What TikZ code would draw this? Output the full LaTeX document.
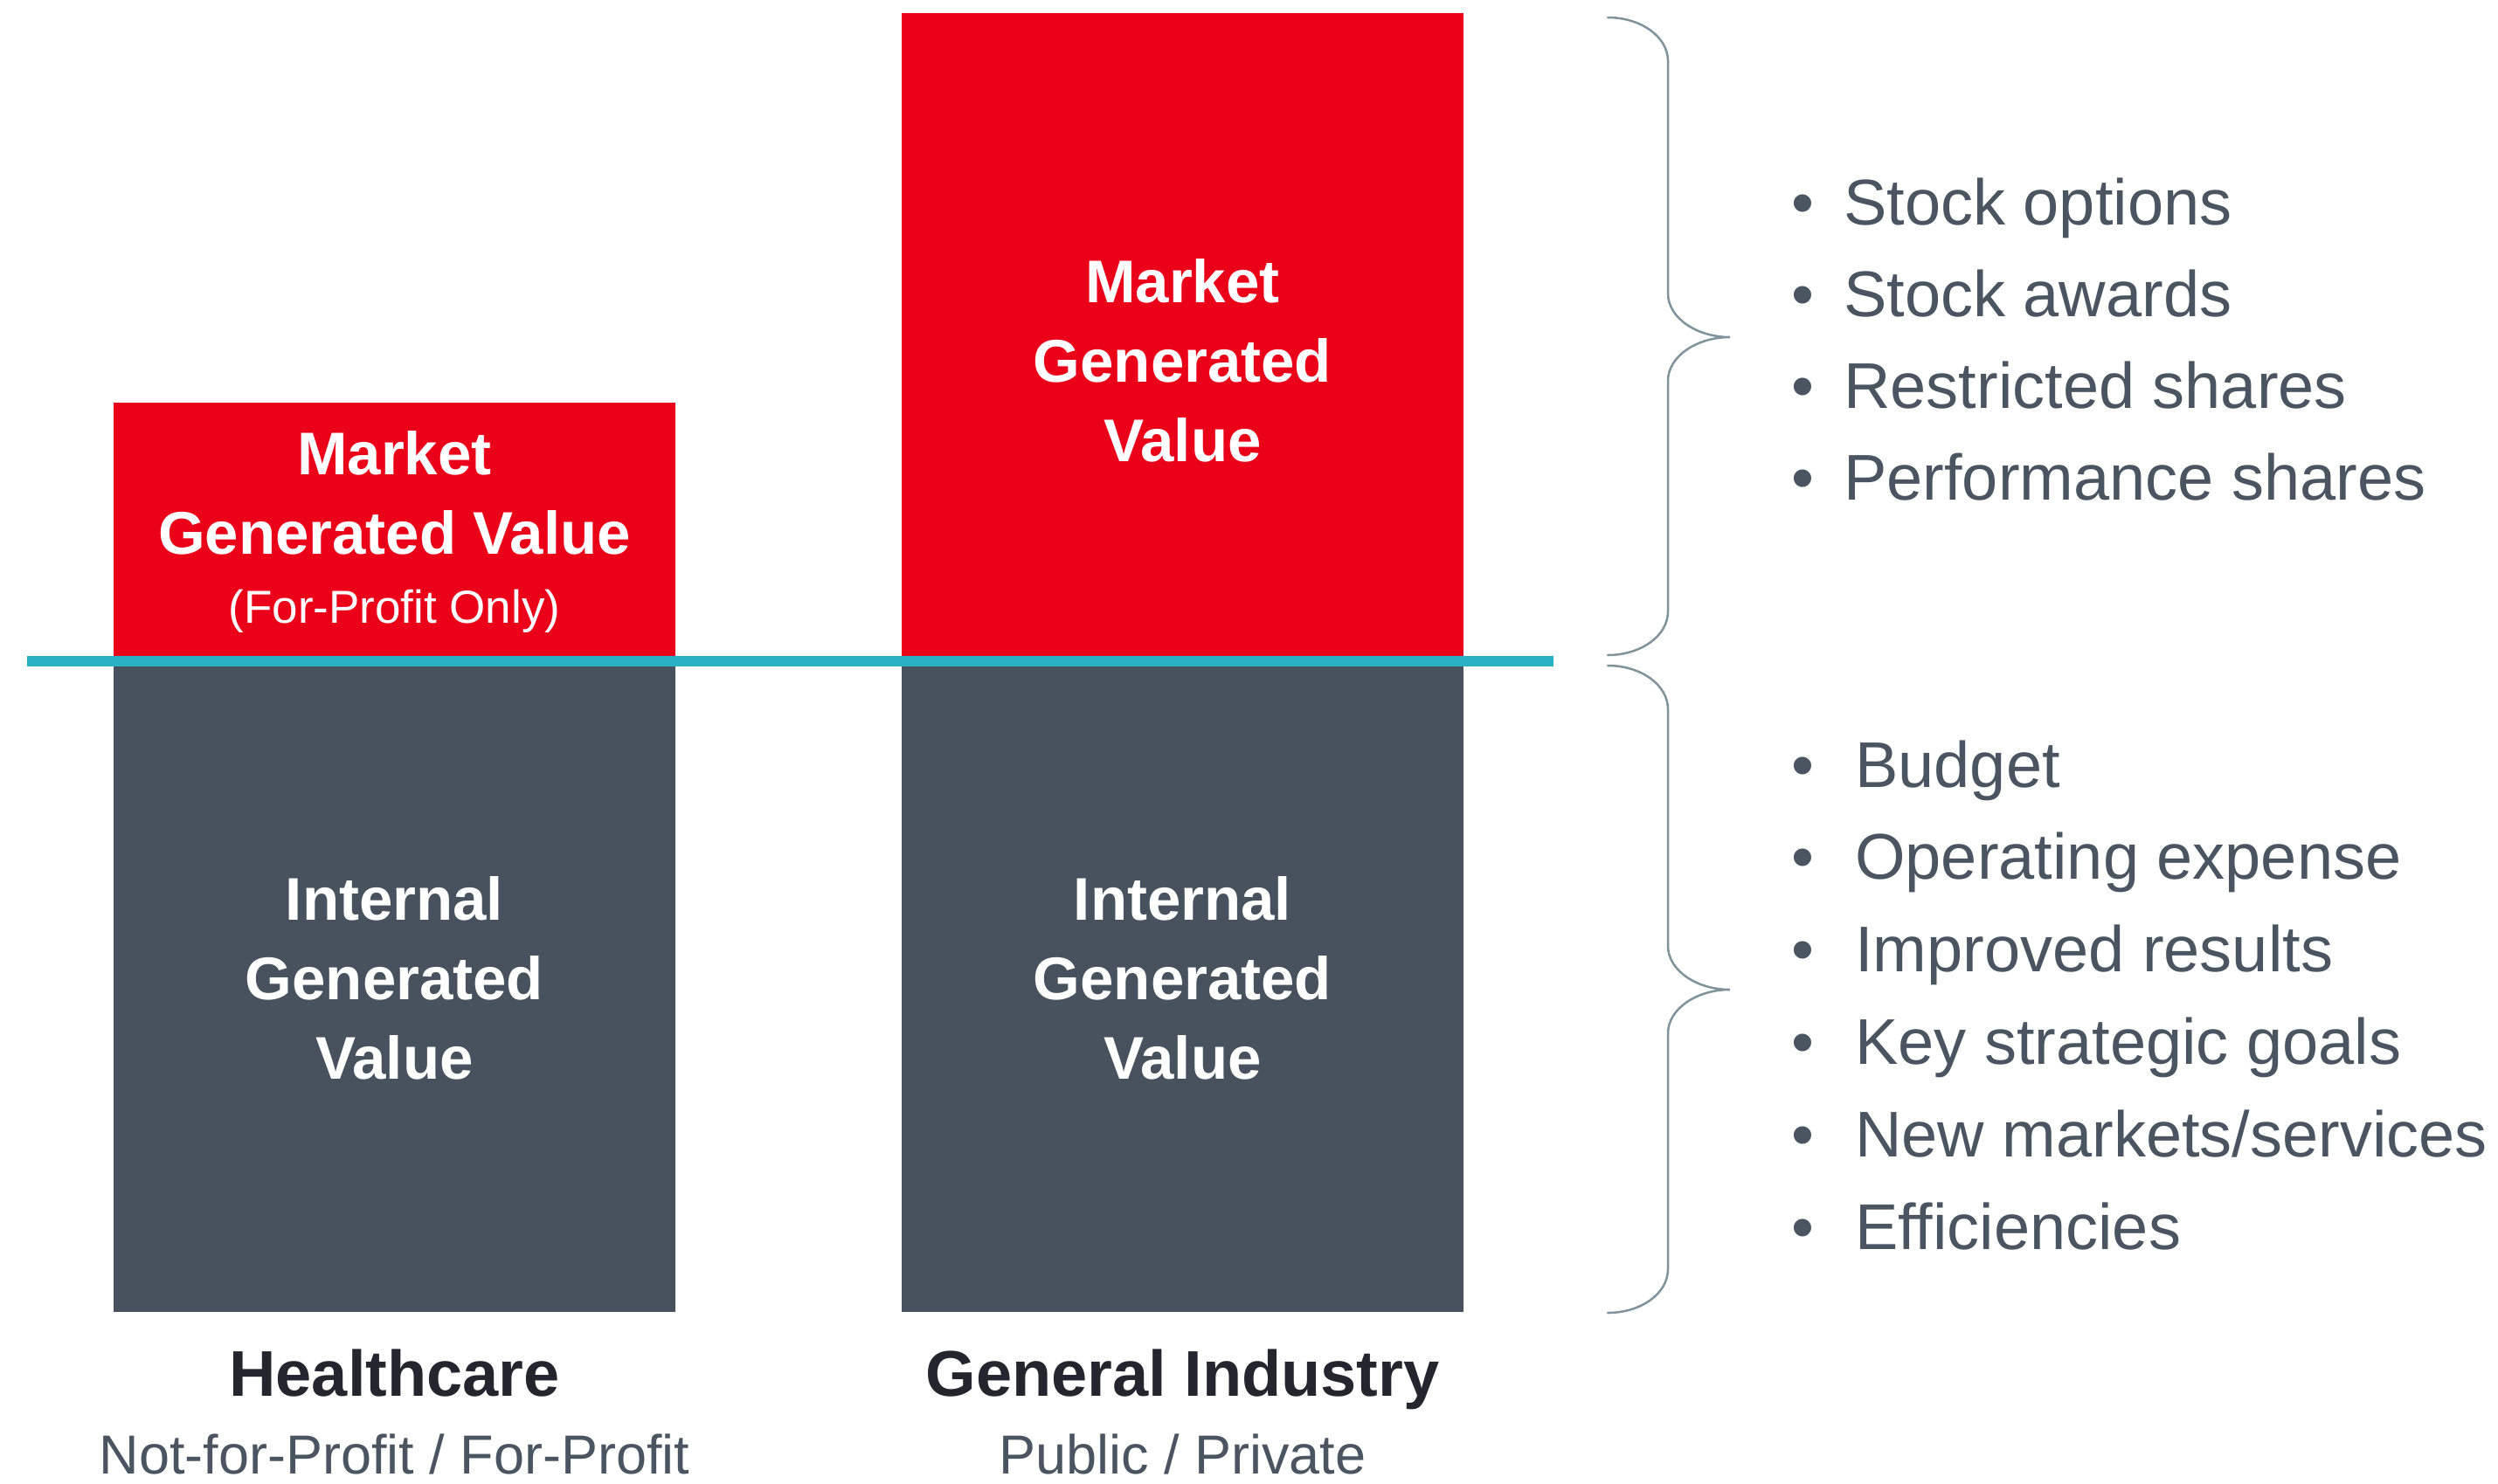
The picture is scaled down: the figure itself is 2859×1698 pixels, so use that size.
\documentclass[tikz,border=0pt]{standalone}
\usepackage{fontspec}
\setmainfont{Liberation Sans}
\usetikzlibrary{positioning}

\definecolor{mktred}{RGB}{235,0,25}
\definecolor{intgray}{RGB}{71,82,94}
\definecolor{divcyan}{RGB}{42,176,196}
\definecolor{bracegray}{RGB}{128,147,156}
\definecolor{txtgray}{RGB}{74,85,97}
\definecolor{headdark}{RGB}{37,37,47}

\begin{document}
\begin{tikzpicture}[x=1pt,y=-1pt,
    bar/.style={inner sep=0pt,minimum width=643pt,anchor=north west},
    mkt/.style={bar,fill=mktred},
    int/.style={bar,fill=intgray},
    bartext/.style={text=white,align=center,anchor=base,inner sep=0pt,
        font=\fontsize{69}{91}\selectfont\bfseries},
    note/.style={text=white,anchor=base,inner sep=0pt,font=\fontsize{53}{60}\selectfont},
    heading/.style={text=headdark,anchor=base,inner sep=0pt,font=\fontsize{74}{80}\selectfont\bfseries},
    kind/.style={text=txtgray,anchor=base,inner sep=0pt,font=\fontsize{63}{70}\selectfont},
    dot/.style={text=txtgray,anchor=base,inner sep=0pt,font=\fontsize{74}{80}\selectfont},
    item/.style={text=txtgray,anchor=base west,inner sep=0pt,font=\fontsize{74}{80}\selectfont},
    bracestroke/.style={draw=bracegray,line width=2.5pt,line cap=round}]
    \useasboundingbox (0,0) rectangle (2859,1698);

    % bars
    \node[mkt,minimum height=296pt] (hc_mkt) at (130,461) {};
    \node[int,minimum height=745pt] (hc_int) at (130,757) {};
    \node[mkt,minimum height=742pt] (gi_mkt) at (1032,15) {};
    \node[int,minimum height=745pt] (gi_int) at (1032,757) {};

    % base of a multi-line node is its last line
    \node[bartext] (hc_mkt_txt) at (451.5,634) {Market\\Generated Value};
    \node[note] (hc_note) at (451.5,713) {(For-Profit Only)};
    \node[bartext] (gi_mkt_txt) at (1353.5,528) {Market\\Generated\\Value};
    \node[bartext] (hc_int_txt) at (451.5,1235) {Internal\\Generated\\Value};
    \node[bartext] (gi_int_txt) at (1353.5,1235) {Internal\\Generated\\Value};

    % divider
    \coordinate (div_l) at (31,757);
    \coordinate (div_r) at (1778,757);
    \draw[divcyan,line width=12pt] (div_l) -- (div_r);

    % labels under the bars
    \node[heading] (hc_name) at (451.5,1598) {Healthcare};
    \node[below=89pt of hc_name.base,kind] (hc_kind) {Not-for-Profit / For-Profit};
    \node[heading] (gi_name) at (1353.5,1598) {General Industry};
    \node[below=89pt of gi_name.base,kind] (gi_kind) {Public / Private};

    % braces
    \foreach \t/\m/\b in {20/386/750, 762/1133/1503}
        \draw[bracestroke] (1840,\t) .. controls (1878,\t) and (1909,\t+22) .. (1909,\t+50)
            -- (1909,\m-50) .. controls (1909,\m-22) and (1942,\m) .. (1980,\m)
            .. controls (1942,\m) and (1909,\m+22) .. (1909,\m+50)
            -- (1909,\b-50) .. controls (1909,\b-22) and (1878,\b) .. (1840,\b);

    % market items
    \foreach \txt [count=\i] in {Stock options, Stock awards, Restricted shares, Performance shares} {
        \node[dot] (mk_dot_\i) at (2063,{257+105.3*(\i-1)}) {\textbullet};
        \node[item] (mk_item_\i) at (2110,{257+105.3*(\i-1)}) {\txt};
    }

    % internal items
    \foreach \txt [count=\i] in {Budget, Operating expense, Improved results, Key strategic goals, New markets/services, Efficiencies} {
        \node[dot] (in_dot_\i) at (2063,{901+105.8*(\i-1)}) {\textbullet};
        \node[item] (in_item_\i) at (2123,{901+105.8*(\i-1)}) {\txt};
    }
\end{tikzpicture}
\end{document}
